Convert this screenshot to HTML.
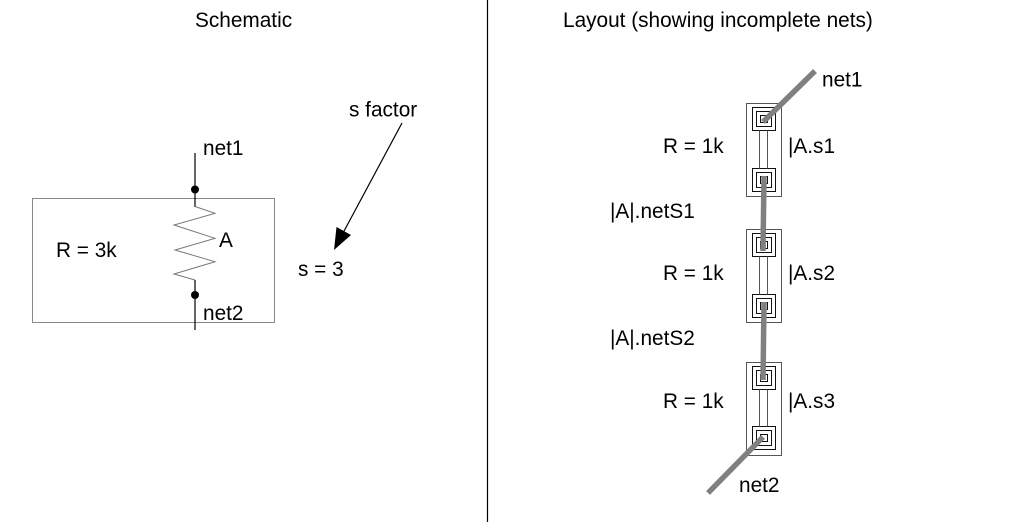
<!DOCTYPE html>
<html><head><meta charset="utf-8"><style>
html,body{margin:0;padding:0;background:#fff;}
svg{display:block;}
text{font-family:"Liberation Sans",Arial,sans-serif;font-size:20.8px;fill:#000;}
</style></head><body>
<svg width="1013" height="522" viewBox="0 0 1013 522" xmlns="http://www.w3.org/2000/svg">
<rect x="0" y="0" width="1013" height="522" fill="#fff"/>
<line x1="487.5" y1="0" x2="487.5" y2="522" stroke="#000" stroke-width="1.2"/>

<!-- Schematic -->
<text x="195" y="27">Schematic</text>
<rect x="32.5" y="198.5" width="242" height="124" fill="none" stroke="#888" stroke-width="1"/>
<line x1="195" y1="153" x2="195" y2="207" stroke="#000" stroke-width="1.2"/>
<circle cx="195" cy="189.5" r="4" fill="#000"/>
<polyline points="195,206.5 215,213.3 174,225 215,238.3 175,250 215,261.7 174,274 195,280" fill="none" stroke="#777" stroke-width="1"/>
<line x1="195" y1="280" x2="195" y2="330" stroke="#000" stroke-width="1.2"/>
<circle cx="195" cy="295" r="4" fill="#000"/>
<text x="203" y="155">net1</text>
<text x="219" y="247">A</text>
<text x="56" y="257">R = 3k</text>
<text x="203" y="320">net2</text>
<text x="298" y="276">s = 3</text>
<text x="349" y="116.5">s factor</text>
<line x1="402" y1="123" x2="343" y2="233" stroke="#000" stroke-width="1.2"/>
<polygon points="334,250 336.5,227 351,235" fill="#000"/>

<!-- Layout -->
<text x="563" y="27">Layout (showing incomplete nets)</text>

<g fill="none" stroke-width="1">
  <!-- resistor 1 -->
  <rect x="746.5" y="103.5" width="35" height="93" stroke="#555"/>
  <rect x="752.5" y="107.5" width="23" height="23" stroke="#111"/>
  <rect x="756.5" y="111.5" width="15" height="15" stroke="#111"/>
  <rect x="760.5" y="115.5" width="7" height="7" stroke="#111"/>
  <rect x="752.5" y="168.5" width="23" height="23" stroke="#111"/>
  <rect x="756.5" y="172.5" width="15" height="15" stroke="#111"/>
  <rect x="760.5" y="176.5" width="7" height="7" stroke="#111"/>
  <line x1="759.5" y1="130.5" x2="759.5" y2="168.5" stroke="#555"/>
  <line x1="767.5" y1="130.5" x2="767.5" y2="168.5" stroke="#555"/>
  <!-- resistor 2 -->
  <rect x="746.5" y="229.5" width="35" height="93" stroke="#555"/>
  <rect x="752.5" y="233.5" width="23" height="23" stroke="#111"/>
  <rect x="756.5" y="237.5" width="15" height="15" stroke="#111"/>
  <rect x="760.5" y="241.5" width="7" height="7" stroke="#111"/>
  <rect x="752.5" y="294.5" width="23" height="23" stroke="#111"/>
  <rect x="756.5" y="298.5" width="15" height="15" stroke="#111"/>
  <rect x="760.5" y="302.5" width="7" height="7" stroke="#111"/>
  <line x1="759.5" y1="256.5" x2="759.5" y2="294.5" stroke="#555"/>
  <line x1="767.5" y1="256.5" x2="767.5" y2="294.5" stroke="#555"/>
  <!-- resistor 3 -->
  <rect x="746.5" y="362.5" width="35" height="93" stroke="#555"/>
  <rect x="752.5" y="366.5" width="23" height="23" stroke="#111"/>
  <rect x="756.5" y="370.5" width="15" height="15" stroke="#111"/>
  <rect x="760.5" y="374.5" width="7" height="7" stroke="#111"/>
  <rect x="752.5" y="426.5" width="23" height="23" stroke="#111"/>
  <rect x="756.5" y="430.5" width="15" height="15" stroke="#111"/>
  <rect x="760.5" y="434.5" width="7" height="7" stroke="#111"/>
  <line x1="759.5" y1="389.5" x2="759.5" y2="426.5" stroke="#555"/>
  <line x1="767.5" y1="389.5" x2="767.5" y2="426.5" stroke="#555"/>
</g>

<g stroke="#808080" stroke-width="5.5" fill="none">
  <line x1="815" y1="71" x2="763" y2="122"/>
  <line x1="764" y1="176" x2="763" y2="251"/>
  <line x1="764" y1="302" x2="763" y2="380"/>
  <line x1="763" y1="437" x2="708" y2="493"/>
</g>

<text x="822" y="86.5">net1</text>
<text x="663" y="153">R = 1k</text>
<text x="788" y="153">|A.s1</text>
<text x="610" y="218">|A|.netS1</text>
<text x="663" y="280">R = 1k</text>
<text x="788" y="280">|A.s2</text>
<text x="610" y="345">|A|.netS2</text>
<text x="663" y="408">R = 1k</text>
<text x="788" y="408">|A.s3</text>
<text x="739" y="492">net2</text>
</svg>
</body></html>
